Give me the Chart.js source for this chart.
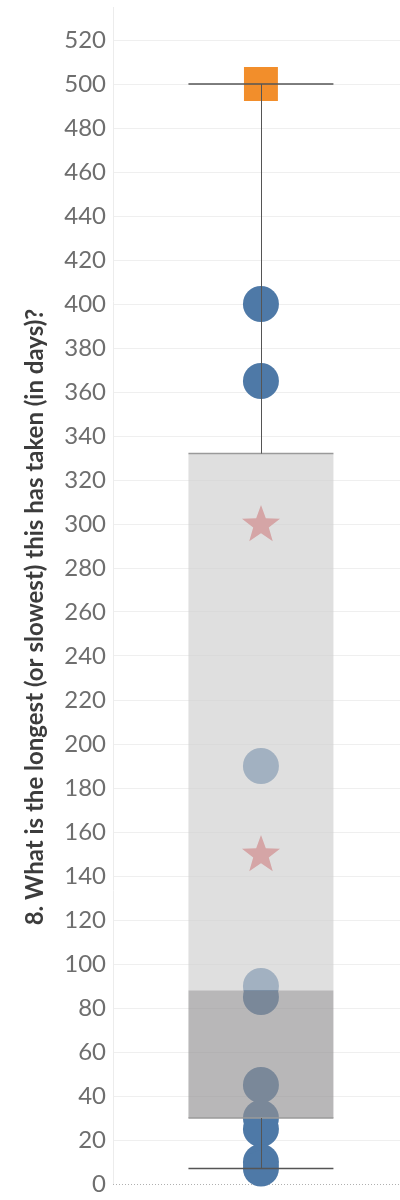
<!DOCTYPE html>
<html lang="en">
<head>
    <meta charset="UTF-8">
    <title>Longest time taken</title>
    <style>
        html, body {
            margin: 0;
            padding: 0;
            overflow: hidden;
            background: #ffffff;
        }
        .chart-box {
            width: 400px;
            height: 1200px;
            position: relative;
        }
    </style>
    <script src="https://cdn.jsdelivr.net/npm/chart.js"></script>
</head>
<body>
    <div class="chart-box">
        <canvas id="daysChart"></canvas>
    </div>

    <script>
        // data
        var axisTitle = '8. What is the longest (or slowest) this has taken (in days)?';
        var yTicks = [0, 20, 40, 60, 80, 100, 120, 140, 160, 180, 200, 220, 240, 260,
                      280, 300, 320, 340, 360, 380, 400, 420, 440, 460, 480, 500, 520];
        var answers = [500, 400, 365, 300, 190, 150, 90, 85, 45, 30, 25, 10, 7];
        var shapes = ['square', 'circle', 'circle', 'star', 'circle', 'star', 'circle',
                      'circle', 'circle', 'circle', 'circle', 'circle', 'circle'];
        var whiskers = [7, 500];      // low, high
        var boxEdges = [30, 88, 332]; // lower quartile, median, upper quartile

        var blue = '#4e79a7';
        var orange = '#f28e2b';
        var pink = '#e15759';
        var boxHalf = 0.49;

        // filled star marker (the built-in one is only strokes)
        var starImg = document.createElement('canvas');
        starImg.width = 40;
        starImg.height = 40;
        var sctx = starImg.getContext('2d');
        sctx.beginPath();
        for (var i = 0; i < 10; i++) {
            var r = (i % 2 === 0) ? 20 : 8.2;
            var a = -Math.PI / 2 + i * Math.PI / 5;
            var px = 20 + r * Math.cos(a);
            var py = 21 + r * Math.sin(a);
            if (i === 0) sctx.moveTo(px, py); else sctx.lineTo(px, py);
        }
        sctx.closePath();
        sctx.fillStyle = pink;
        sctx.fill();

        var styles = shapes.map(function (s) {
            if (s === 'square') return 'rect';
            if (s === 'star') return starImg;
            return 'circle';
        });
        var radii = shapes.map(function (s) {
            if (s === 'square') return 24;
            if (s === 'star') return 20;
            return 18;
        });
        var colors = shapes.map(function (s) {
            if (s === 'square') return orange;
            if (s === 'star') return pink;
            return blue;
        });

        // zero line (dotted) under the marks
        var zeroLine = {
            id: 'zeroLine',
            beforeDatasetsDraw: function (chart) {
                var ctx = chart.ctx;
                var y = Math.round(chart.scales.y.getPixelForValue(0));
                ctx.save();
                ctx.strokeStyle = '#b0b0b0';
                ctx.lineWidth = 1;
                ctx.setLineDash([1, 2]);
                ctx.beginPath();
                ctx.moveTo(chart.chartArea.left, y + 0.5);
                ctx.lineTo(chart.chartArea.right, y + 0.5);
                ctx.stroke();
                ctx.restore();
            }
        };

        // box and whiskers drawn on top of the points
        var boxPlot = {
            id: 'boxPlot',
            afterDatasetsDraw: function (chart) {
                var ctx = chart.ctx;
                var xs = chart.scales.x;
                var ys = chart.scales.y;
                var left = xs.getPixelForValue(-boxHalf);
                var right = xs.getPixelForValue(boxHalf);
                var mid = Math.round(xs.getPixelForValue(0)) + 0.5;
                var yLow = ys.getPixelForValue(whiskers[0]);
                var yHigh = ys.getPixelForValue(whiskers[1]);
                var yQ1 = ys.getPixelForValue(boxEdges[0]);
                var yMed = ys.getPixelForValue(boxEdges[1]);
                var yQ3 = ys.getPixelForValue(boxEdges[2]);

                ctx.save();
                ctx.fillStyle = 'rgba(207, 207, 207, 0.66)';
                ctx.fillRect(left, yQ3, right - left, yMed - yQ3);
                ctx.fillStyle = 'rgba(146, 145, 146, 0.65)';
                ctx.fillRect(left, yMed, right - left, yQ1 - yMed);

                ctx.strokeStyle = '#9a9a9a';
                ctx.lineWidth = 1.5;
                ctx.beginPath();
                ctx.moveTo(left, yQ3);
                ctx.lineTo(right, yQ3);
                ctx.moveTo(left, yQ1);
                ctx.lineTo(right, yQ1);
                ctx.stroke();

                ctx.strokeStyle = '#555555';
                ctx.lineWidth = 1;
                ctx.beginPath();
                ctx.moveTo(mid, yHigh);
                ctx.lineTo(mid, yQ3);
                ctx.moveTo(mid, yQ1);
                ctx.lineTo(mid, yLow);
                ctx.stroke();

                ctx.lineWidth = 1.5;
                ctx.beginPath();
                ctx.moveTo(left, yHigh);
                ctx.lineTo(right, yHigh);
                ctx.moveTo(left, yLow);
                ctx.lineTo(right, yLow);
                ctx.stroke();
                ctx.restore();
            }
        };

        // rotated axis title, placed like the original
        var sideTitle = {
            id: 'sideTitle',
            afterDraw: function (chart) {
                var ctx = chart.ctx;
                ctx.save();
                ctx.font = 'bold 22px Lato';
                var w = ctx.measureText(axisTitle).width;
                var size = Math.min(24, 22 * 721 / w);
                ctx.font = 'bold ' + size.toFixed(1) + 'px Lato';
                ctx.translate(43, 617);
                ctx.rotate(-Math.PI / 2);
                ctx.fillStyle = '#3c3c3c';
                ctx.textAlign = 'center';
                ctx.textBaseline = 'alphabetic';
                ctx.fillText(axisTitle, 0, 0);
                ctx.restore();
            }
        };

        var ctx = document.getElementById('daysChart').getContext('2d');
        var daysChart = new Chart(ctx, {
            type: 'scatter',
            data: {
                datasets: [{
                    data: answers.map(function (v) { return { x: 0, y: v }; }),
                    pointStyle: styles,
                    pointRadius: radii,
                    pointHoverRadius: radii,
                    backgroundColor: colors,
                    borderColor: colors,
                    borderWidth: 0,
                    clip: false
                }]
            },
            options: {
                responsive: true,
                maintainAspectRatio: false,
                animation: false,
                layout: {
                    autoPadding: false,
                    padding: { top: 7, bottom: 16, left: 0, right: 0 }
                },
                plugins: {
                    legend: { display: false },
                    tooltip: { enabled: false }
                },
                scales: {
                    x: {
                        type: 'linear',
                        min: -1,
                        max: 0.94,
                        display: false
                    },
                    y: {
                        min: 0,
                        max: 535,
                        afterBuildTicks: function (scale) {
                            scale.ticks = yTicks.map(function (v) { return { value: v }; });
                        },
                        afterFit: function (scale) {
                            scale.width = 113;
                            scale.paddingTop = 0;
                            scale.paddingBottom = 0;
                        },
                        grid: {
                            drawTicks: false,
                            color: function (c) {
                                return c.tick && c.tick.value === 0 ? 'rgba(0,0,0,0)' : '#efefef';
                            }
                        },
                        border: { color: '#ececec' },
                        ticks: {
                            padding: 7,
                            color: '#6e6e6e',
                            font: { family: 'Lato', size: 24 }
                        }
                    }
                }
            },
            plugins: [zeroLine, boxPlot, sideTitle]
        });
    </script>
</body>
</html>
